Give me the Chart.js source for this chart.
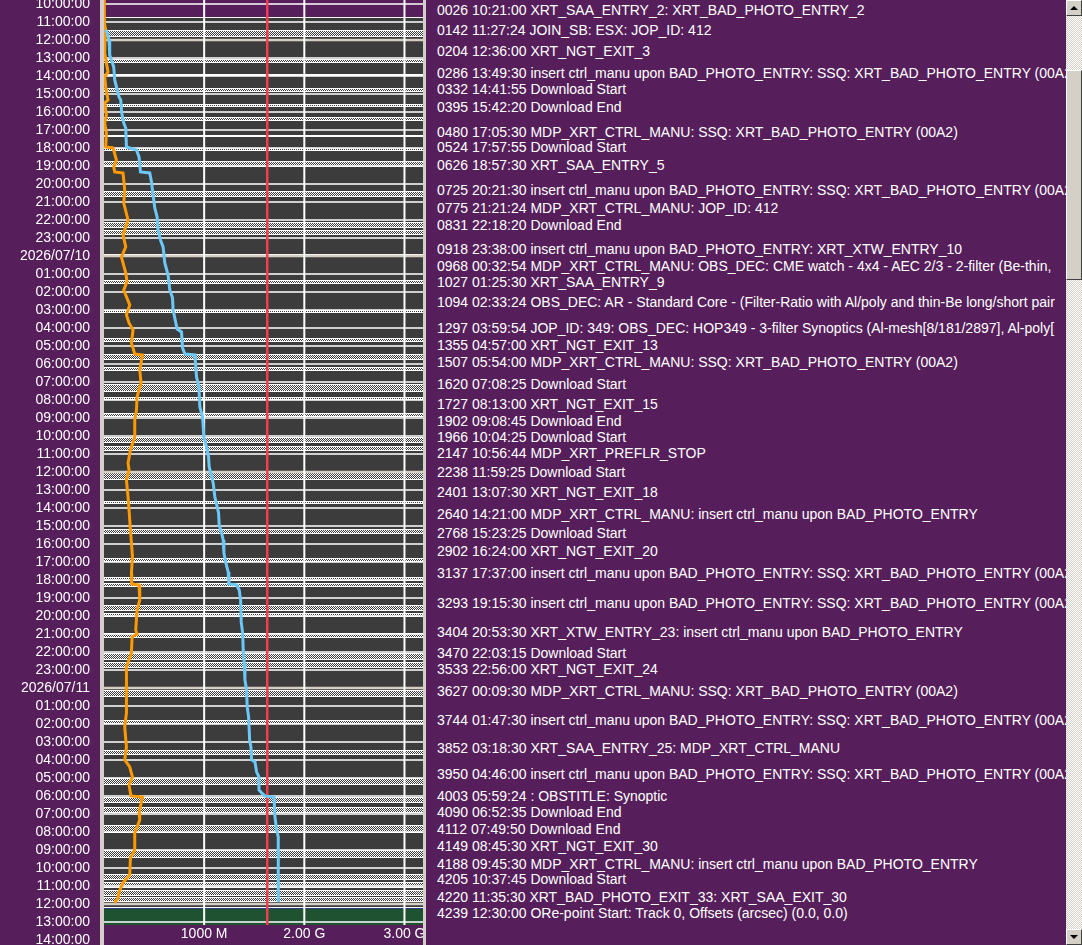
<!DOCTYPE html>
<html>
<head>
<meta charset="utf-8">
<title>XRT timeline</title>
<script src="https://cdn.jsdelivr.net/npm/chart.js@4.4.1/dist/chart.umd.min.js"></script>
<style>
  body { margin: 0; background: #561f5b; overflow: hidden; font-family: 'Liberation Sans', Arial, sans-serif; }
  #wrap { position: relative; width: 1082px; height: 945px; }
  #timeline { position: absolute; left: 0; top: 0; }
  .frame { position: absolute; top: 0; height: 945px; background: #d4d0c8; }
  #log { position: absolute; left: 426px; top: 0; width: 640px; height: 945px; overflow: hidden; background: #561f5b; }
  .entry { position: absolute; left: 11px; white-space: nowrap; color: #fff; font-size: 14px; line-height: 16px; }
  #scroll { position: absolute; left: 1066px; top: 0; width: 16px; height: 945px;
    background: repeating-conic-gradient(#d4d0c8 0 25%, #ffffff 0 50%) 0 0 / 2px 2px; }
  .btn { position: absolute; left: 0; width: 14px; background: #d4d0c8; border: 1px solid; border-color: #fff #404040 #404040 #fff; }
  .arrow { position: absolute; left: 3px; top: 5px; width: 0; height: 0; border-left: 4px solid transparent; border-right: 4px solid transparent; }
  .up { border-bottom: 4px solid #000; }
  .down { border-top: 4px solid #000; }
</style>
</head>
<body>
<div id="wrap">
  <canvas id="timeline" width="1082" height="945"></canvas>
  <div class="frame" style="left:100px;width:4px"></div>
  <div class="frame" style="left:423px;width:3px"></div>
  <div id="log"></div>
  <div id="scroll">
    <div class="btn" style="top:0;height:14px"><div class="arrow up"></div></div>
    <div class="btn" style="top:70px;height:208px"></div>
    <div class="btn" style="top:929px;height:14px"><div class="arrow down"></div></div>
  </div>
</div>
<script>
'use strict';

// ******** AXIS DATA **************
// hours counted from 2026/07/09 00:00
let firstTickHour = 10;
let timeTicks = [
  '10:00:00', '11:00:00', '12:00:00', '13:00:00', '14:00:00', '15:00:00', '16:00:00',
  '17:00:00', '18:00:00', '19:00:00', '20:00:00', '21:00:00', '22:00:00', '23:00:00',
  '2026/07/10', '01:00:00', '02:00:00', '03:00:00', '04:00:00', '05:00:00', '06:00:00',
  '07:00:00', '08:00:00', '09:00:00', '10:00:00', '11:00:00', '12:00:00', '13:00:00',
  '14:00:00', '15:00:00', '16:00:00', '17:00:00', '18:00:00', '19:00:00', '20:00:00',
  '21:00:00', '22:00:00', '23:00:00',
  '2026/07/11', '01:00:00', '02:00:00', '03:00:00', '04:00:00', '05:00:00', '06:00:00',
  '07:00:00', '08:00:00', '09:00:00', '10:00:00', '11:00:00', '12:00:00', '13:00:00',
  '14:00:00'
];
let timeMin = 9.78;
let timeMax = 62.28;

let xTickValues = [1000, 2000, 3000];
let xTickLabels = ['1000 M', '2.00 G', '3.00 G'];
let volumeMax = 3185;
let volumeLimit = 1630;

// ******** TIMELINE BANDS **************
let plotStart = 10.72;
let plotEnd = 60.22;
let greenEnd = 61.17;

let stripStart = [11.44, 13.06, 13.89, 14.67, 15.56, 16.28, 17.28, 18.0, 18.72, 20.39, 22.11, 22.56,
  23.89, 25.33, 27.0, 28.56, 29.44, 30.17, 31.11, 31.83, 32.72, 34.06, 34.56, 36.0, 37.61, 39.17,
  40.78, 41.83, 42.17, 43.39, 43.83, 44.94, 46.06, 46.56, 48.11, 49.78, 51.44, 53.0, 54.06, 54.61,
  55.61, 57.0, 58.33, 58.78, 59.22, 59.61];
let stripEnd = [11.83, 13.28, 14.0, 14.89, 15.72, 16.5, 17.39, 18.17, 19.06, 20.72, 22.44, 22.83,
  24.06, 25.56, 27.17, 28.78, 29.78, 30.39, 31.56, 32.0, 32.94, 34.39, 34.83, 36.44, 37.78, 39.44,
  41.0, 42.06, 42.39, 43.72, 44.06, 45.22, 46.44, 46.89, 48.5, 50.0, 51.72, 53.39, 54.39, 54.94,
  56.06, 57.44, 58.67, 59.11, 59.56, 59.89];

// ******** SERIES **************
let blueTime = [11.44, 11.6, 12.0, 12.83, 13.11, 13.5, 14.22, 14.61, 15.17, 15.33, 16.06, 16.61, 16.89,
  17.94, 18.0, 18.11, 18.5, 19.33, 19.39, 19.89, 20.61, 21.33, 21.83, 22.56, 23.11, 23.5, 24.39, 25.06,
  25.89, 26.33, 27.0, 27.72, 28.06, 28.22, 29.11, 29.44, 29.5, 30.72, 31.28, 32.39, 32.94, 34.06, 34.61,
  35.17, 35.72, 36.06, 36.61, 37.39, 37.94, 38.28, 38.94, 39.39, 39.78, 40.5, 41.06, 41.56, 42.22, 42.28,
  42.56, 43.11, 44.33, 44.94, 45.89, 46.61, 47.56, 48.11, 49.06, 49.61, 50.89, 51.28, 52.0, 52.11, 52.67,
  52.94, 53.67, 53.83, 54.0, 54.06, 55.17, 55.89, 56.28, 59.89];
let blueVolume = [17, 30, 50, 57, 74, 97, 107, 124, 150, 167, 177, 197, 217,
  224, 257, 324, 350, 364, 457, 474, 490, 507, 530, 540, 564, 590, 607, 640,
  657, 684, 690, 717, 730, 774, 784, 807, 907, 924, 947, 957, 984, 997, 1024,
  1044, 1050, 1067, 1090, 1107, 1130, 1144, 1150, 1174, 1190, 1197, 1217, 1240, 1247, 1324,
  1350, 1364, 1370, 1384, 1390, 1400, 1407, 1424, 1430, 1444, 1454, 1467, 1474, 1507, 1524,
  1547, 1547, 1574, 1607, 1697, 1707, 1724, 1740, 1740];

let orangeTime = [9.78, 10.9, 11.06, 11.44, 12.0, 12.72, 13.28, 13.78, 14.06, 14.61, 15.33, 15.5, 16.17,
  16.61, 17.17, 17.94, 18.0, 18.67, 19.06, 19.33, 19.39, 20.33, 21.06, 22.0, 22.83, 23.5, 24.06, 24.94,
  25.44, 25.89, 26.72, 27.28, 27.72, 28.11, 28.83, 29.44, 29.5, 30.33, 31.06, 31.83, 32.56, 33.11, 34.06,
  34.78, 35.5, 35.89, 36.44, 37.39, 38.11, 39.22, 39.94, 40.72, 41.61, 42.22, 42.28, 43.11, 43.67, 44.78,
  45.0, 45.17, 46.06, 46.83, 48.28, 49.39, 50.17, 51.28, 52.0, 52.39, 52.94, 53.39, 53.83, 54.0, 54.06,
  54.94, 55.33, 56.06, 57.0, 57.44, 58.39, 58.83, 59.33, 59.67, 59.94];
let orangeVolume = [0, 0, 7, 17, 10, 7, 24, 40, 7, 17, 40, 7, 24,
  7, 24, 17, 90, 124, 97, 107, 190, 207, 197, 240, 190, 217, 174, 217,
  230, 197, 257, 224, 250, 290, 274, 307, 384, 357, 370, 330, 324, 307, 307,
  264, 240, 250, 224, 240, 250, 264, 274, 284, 274, 277, 350, 357, 330, 317,
  330, 280, 274, 224, 224, 224, 207, 224, 207, 257, 284, 250, 264, 270, 384,
  350, 357, 307, 307, 264, 257, 190, 150, 140, 107];

// ******** EVENT LOG **************
let logIds = ['0026', '0142', '0204', '0286', '0332', '0395', '0480', '0524', '0626', '0725', '0775',
  '0831', '0918', '0968', '1027', '1094', '1297', '1355', '1507', '1620', '1727', '1902', '1966', '2147',
  '2238', '2401', '2640', '2768', '2902', '3137', '3293', '3404', '3470', '3533', '3627', '3744', '3852',
  '3950', '4003', '4090', '4112', '4149', '4188', '4205', '4220', '4239'];
let logTimes = ['10:21:00', '11:27:24', '12:36:00', '13:49:30', '14:41:55', '15:42:20', '17:05:30',
  '17:57:55', '18:57:30', '20:21:30', '21:21:24', '22:18:20', '23:38:00', '00:32:54', '01:25:30',
  '02:33:24', '03:59:54', '04:57:00', '05:54:00', '07:08:25', '08:13:00', '09:08:45', '10:04:25',
  '10:56:44', '11:59:25', '13:07:30', '14:21:00', '15:23:25', '16:24:00', '17:37:00', '19:15:30',
  '20:53:30', '22:03:15', '22:56:00', '00:09:30', '01:47:30', '03:18:30', '04:46:00', '05:59:24',
  '06:52:35', '07:49:50', '08:45:30', '09:45:30', '10:37:45', '11:35:30', '12:30:00'];
let logTexts = [
  'XRT_SAA_ENTRY_2: XRT_BAD_PHOTO_ENTRY_2',
  'JOIN_SB: ESX: JOP_ID: 412',
  'XRT_NGT_EXIT_3',
  'insert ctrl_manu upon BAD_PHOTO_ENTRY: SSQ: XRT_BAD_PHOTO_ENTRY (00A2)',
  'Download Start',
  'Download End',
  'MDP_XRT_CTRL_MANU: SSQ: XRT_BAD_PHOTO_ENTRY (00A2)',
  'Download Start',
  'XRT_SAA_ENTRY_5',
  'insert ctrl_manu upon BAD_PHOTO_ENTRY: SSQ: XRT_BAD_PHOTO_ENTRY (00A2)',
  'MDP_XRT_CTRL_MANU: JOP_ID: 412',
  'Download End',
  'insert ctrl_manu upon BAD_PHOTO_ENTRY: XRT_XTW_ENTRY_10',
  'MDP_XRT_CTRL_MANU: OBS_DEC: CME watch - 4x4 - AEC 2/3 - 2-filter (Be-thin,',
  'XRT_SAA_ENTRY_9',
  'OBS_DEC: AR - Standard Core - (Filter-Ratio with Al/poly and thin-Be long/short pair',
  'JOP_ID: 349: OBS_DEC: HOP349 - 3-filter Synoptics (Al-mesh[8/181/2897], Al-poly[',
  'XRT_NGT_EXIT_13',
  'MDP_XRT_CTRL_MANU: SSQ: XRT_BAD_PHOTO_ENTRY (00A2)',
  'Download Start',
  'XRT_NGT_EXIT_15',
  'Download End',
  'Download Start',
  'MDP_XRT_PREFLR_STOP',
  'Download Start',
  'XRT_NGT_EXIT_18',
  'MDP_XRT_CTRL_MANU: insert ctrl_manu upon BAD_PHOTO_ENTRY',
  'Download Start',
  'XRT_NGT_EXIT_20',
  'insert ctrl_manu upon BAD_PHOTO_ENTRY: SSQ: XRT_BAD_PHOTO_ENTRY (00A2)',
  'insert ctrl_manu upon BAD_PHOTO_ENTRY: SSQ: XRT_BAD_PHOTO_ENTRY (00A2)',
  'XRT_XTW_ENTRY_23: insert ctrl_manu upon BAD_PHOTO_ENTRY',
  'Download Start',
  'XRT_NGT_EXIT_24',
  'MDP_XRT_CTRL_MANU: SSQ: XRT_BAD_PHOTO_ENTRY (00A2)',
  'insert ctrl_manu upon BAD_PHOTO_ENTRY: SSQ: XRT_BAD_PHOTO_ENTRY (00A2)',
  'XRT_SAA_ENTRY_25: MDP_XRT_CTRL_MANU',
  'insert ctrl_manu upon BAD_PHOTO_ENTRY: SSQ: XRT_BAD_PHOTO_ENTRY (00A2)',
  ': OBSTITLE: Synoptic',
  'Download End',
  'Download End',
  'XRT_NGT_EXIT_30',
  'MDP_XRT_CTRL_MANU: insert ctrl_manu upon BAD_PHOTO_ENTRY',
  'Download Start',
  'XRT_BAD_PHOTO_EXIT_33: XRT_SAA_EXIT_30',
  'ORe-point Start: Track 0, Offsets (arcsec) (0.0, 0.0)'
];

// *********** HELPER FUNCTIONS ***************

function toPoints(times, volumes) {
  return times.map((t, i) => ({ x: volumes[i], y: t }));
}

// hour grid lines, split into plain hours and the 12 hour marks
function hourLinePoints(every12) {
  let pts = [];
  for (let i = 0; i < timeTicks.length; i++) {
    let h = firstTickHour + i;
    if (h > greenEnd) break;
    if ((h % 12 === 0) !== every12) continue;
    pts.push({ x: 0, y: h }, { x: volumeMax, y: h }, { x: 0, y: NaN });
  }
  return pts;
}

function gridColumnPoints() {
  let pts = [];
  for (let i = 0; i < xTickValues.length; i++) {
    pts.push({ x: xTickValues[i], y: timeMin }, { x: xTickValues[i], y: greenEnd }, { x: 0, y: NaN });
  }
  return pts;
}

function makeHatch() {
  let c = document.createElement('canvas');
  c.width = 2;
  c.height = 2;
  let g = c.getContext('2d');
  g.fillStyle = '#3c3c3c';
  g.fillRect(0, 0, 2, 2);
  g.fillStyle = '#ffffff';
  g.fillRect(0, 0, 1, 1);
  g.fillRect(1, 1, 1, 1);
  return g.createPattern(c, 'repeat');
}

function logHours() {
  let day = 0;
  let prev = -1;
  return logTimes.map(t => {
    let p = t.split(':').map(Number);
    let h = p[0] + p[1] / 60 + p[2] / 3600;
    if (h < prev) day++;
    prev = h;
    return day * 24 + h;
  });
}

// ********* CHART *******************
Chart.defaults.font.family = "'Liberation Sans', Arial, sans-serif";
Chart.defaults.font.size = 14;
Chart.defaults.color = '#ffffff';

let bandCenter = volumeMax / 2;
let bandStyle = { type: 'bar', grouped: false, barThickness: 330, borderSkipped: false, inflateAmount: 0 };

let canvasElem = document.getElementById('timeline');

let myObj = {
  type: 'line',
  data: {
    datasets: [
      Object.assign({
        label: 'orbit',
        data: [{ x: bandCenter, y: [plotStart, plotEnd] }],
        backgroundColor: '#3c3c3c',
        borderColor: '#ffffff',
        borderWidth: { top: 1, bottom: 1, left: 0, right: 0 },
        order: 20
      }, bandStyle),
      Object.assign({
        label: 'pending',
        data: [{ x: bandCenter, y: [plotEnd, greenEnd] }],
        backgroundColor: '#1f5230',
        borderColor: '#2b3c8c',
        borderWidth: { top: 1, bottom: 0, left: 0, right: 0 },
        order: 19
      }, bandStyle),
      Object.assign({
        label: 'strips',
        data: stripStart.map((s, i) => ({ x: bandCenter, y: [s, stripEnd[i]] })),
        backgroundColor: makeHatch(),
        borderColor: '#ffffff',
        borderWidth: { top: 1, bottom: 1, left: 0, right: 0 },
        order: 18
      }, bandStyle),
      {
        label: 'hours',
        data: hourLinePoints(false),
        borderColor: '#ffffff',
        borderWidth: 1.5,
        pointRadius: 0,
        spanGaps: false,
        order: 10
      },
      {
        label: 'half days',
        data: hourLinePoints(true),
        borderColor: '#d4d0c8',
        borderWidth: 2.5,
        pointRadius: 0,
        spanGaps: false,
        order: 9
      },
      {
        label: 'volume grid',
        data: gridColumnPoints(),
        borderColor: '#ffffff',
        borderWidth: 2,
        pointRadius: 0,
        spanGaps: false,
        order: 8
      },
      {
        label: 'limit',
        data: [{ x: volumeLimit, y: timeMin }, { x: volumeLimit, y: greenEnd }],
        borderColor: '#f23c50',
        borderWidth: 2.5,
        pointRadius: 0,
        order: 5
      },
      {
        label: 'buffer',
        data: toPoints(orangeTime, orangeVolume),
        borderColor: '#ff9900',
        borderWidth: 3,
        pointRadius: 0,
        order: 2
      },
      {
        label: 'total',
        data: toPoints(blueTime, blueVolume),
        borderColor: '#6cc8f8',
        borderWidth: 3,
        pointRadius: 0,
        order: 1
      }
    ]
  },
  options: {
    responsive: false,
    animation: false,
    events: [],
    layout: { padding: { left: 0, right: 659, top: 0, bottom: 0 } },
    scales: {
      x: {
        type: 'linear',
        position: 'bottom',
        min: 0,
        max: volumeMax,
        offset: false,
        z: 1,
        grid: { display: false, drawTicks: false },
        border: { display: false },
        ticks: {
          autoSkip: false,
          maxRotation: 0,
          mirror: true,
          padding: 2,
          callback: (v, i) => xTickLabels[i]
        },
        afterBuildTicks: s => { s.ticks = xTickValues.map(v => ({ value: v })); },
        afterFit: s => { s.height = 0; s.paddingLeft = 0; s.paddingRight = 0; }
      },
      y: {
        type: 'linear',
        position: 'left',
        reverse: true,
        min: timeMin,
        max: timeMax,
        grid: { display: false, drawTicks: false },
        border: { display: false },
        ticks: {
          autoSkip: false,
          padding: 14,
          callback: (v, i) => timeTicks[i]
        },
        afterBuildTicks: s => { s.ticks = timeTicks.map((t, i) => ({ value: firstTickHour + i })); },
        afterFit: s => { s.width = 104; s.paddingTop = 0; s.paddingBottom = 0; }
      }
    },
    plugins: {
      legend: { display: false },
      tooltip: { enabled: false }
    }
  }
};

let timelineChart = new Chart(canvasElem, myObj);

// ********* EVENT LOG PLACED ON THE TIME SCALE *******************
let logBox = document.getElementById('log');
let yScale = timelineChart.scales.y;
let hours = logHours();

for (let i = 0; i < logIds.length; i++) {
  let row = document.createElement('div');
  row.className = 'entry';
  row.textContent = logIds[i] + ' ' + logTimes[i] + ' ' + logTexts[i];
  row.style.top = (yScale.getPixelForValue(hours[i]) - 8) + 'px';
  logBox.appendChild(row);
}
</script>
</body>
</html>
